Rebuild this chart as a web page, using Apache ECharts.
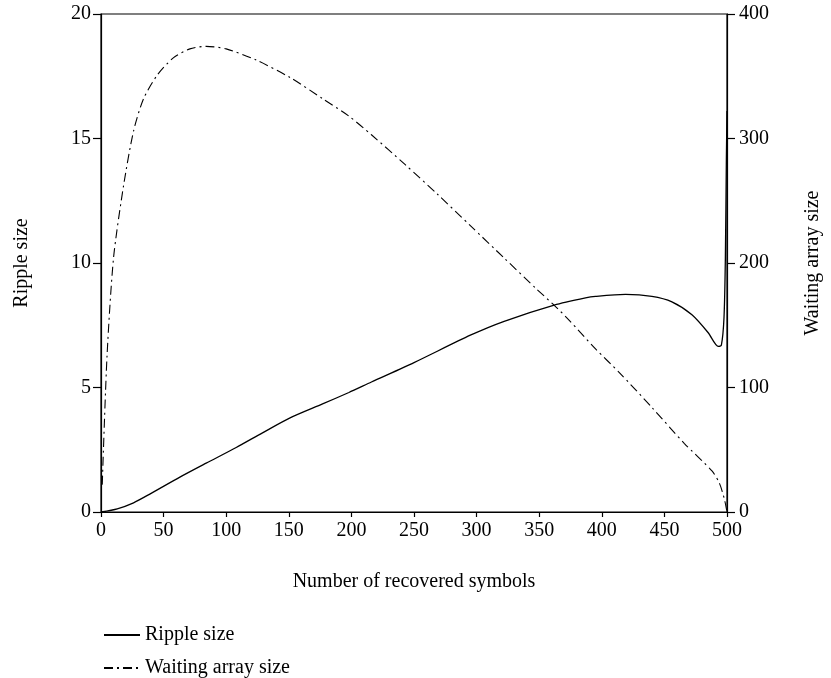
<!DOCTYPE html>
<html>
<head>
<meta charset="utf-8">
<script src="https://cdn.jsdelivr.net/npm/echarts@6/dist/echarts.min.js"></script>
<style>
  html, body { margin: 0; padding: 0; background: #fff; }
  #chart { width: 831px; height: 678px; }
</style>
</head>
<body>
<div id="chart"></div>
<script>
// Ripple size (left axis)
const rippleX = [0, 13, 26, 39, 63, 84, 108, 129, 151, 177, 198, 216, 250, 295, 322, 362, 387, 395, 419, 440, 456, 472, 485, 493, 495.5, 497.6, 498.7, 499.5, 500];
const rippleY = [0, 0.13, 0.37, 0.72, 1.4, 1.96, 2.59, 3.18, 3.78, 4.34, 4.8, 5.22, 6.0, 7.1, 7.66, 8.31, 8.6, 8.66, 8.74, 8.66, 8.44, 7.92, 7.2, 6.65, 6.7, 7.8, 10.2, 14.2, 16.1];

// Waiting array size (right axis)
const waitX = [1, 4.8, 10, 18, 26, 34, 45, 58, 71, 84, 100, 124, 151, 177, 198, 216, 243, 269, 295, 322, 348, 362, 374, 395, 414, 440, 466, 488, 494, 498, 500];
const waitY = [22, 125, 204, 262, 306, 332, 351, 365, 372, 374, 372, 363, 349, 332, 318, 303, 279, 255, 230, 204, 179, 166, 154, 131, 112, 84, 55, 33, 23, 10, 0];

const xTicks = [0, 50, 100, 150, 200, 250, 300, 350, 400, 450, 500];

const font = '"Liberation Serif", "DejaVu Serif", serif';
const dashDot = [9, 4, 2, 4];

const chart = echarts.init(document.getElementById('chart'));

const axisCommon = {
  axisLine: { show: true, lineStyle: { color: '#000', width: 1.2 } },
  axisLabel: { color: '#000', fontFamily: font, fontSize: 20 },
  splitLine: { show: false },
  nameTextStyle: { color: '#000', fontFamily: font, fontSize: 20 }
};

const legendCommon = {
  orient: 'horizontal',
  left: 98,
  itemWidth: 36,
  itemHeight: 14,
  itemStyle: { opacity: 0 },
  textStyle: { color: '#000', fontFamily: font, fontSize: 20 }
};

chart.setOption({
  animation: false,
  backgroundColor: '#fff',
  grid: {
    left: 101, right: 99, top: 14, bottom: 166,
    show: true, borderColor: '#000', borderWidth: 1.2, backgroundColor: 'transparent'
  },
  legend: [
    Object.assign({}, legendCommon, { top: 620, data: ['Ripple size'] }),
    Object.assign({}, legendCommon, { top: 653, data: ['Waiting array size'] })
  ],
  xAxis: Object.assign({}, axisCommon, {
    type: 'value',
    min: 0, max: 500, interval: 50,
    name: 'Number of recovered symbols',
    nameLocation: 'middle',
    nameGap: 60,
    axisTick: { show: true, length: 5, lineStyle: { color: '#000', width: 1.2 } },
    axisLabel: Object.assign({}, axisCommon.axisLabel, { margin: 9, formatter: v => xTicks.includes(v) ? String(v) : '' })
  }),
  yAxis: [
    Object.assign({}, axisCommon, {
      type: 'value',
      min: 0, max: 20, interval: 5,
      name: 'Ripple size',
      nameLocation: 'middle',
      nameGap: 69,
      nameRotate: 90,
      axisTick: { show: true, length: 8, lineStyle: { color: '#000', width: 1.2 } },
      axisLabel: Object.assign({}, axisCommon.axisLabel, { margin: 10 })
    }),
    Object.assign({}, axisCommon, {
      type: 'value',
      position: 'right',
      min: 0, max: 400, interval: 100,
      name: 'Waiting array size',
      nameLocation: 'middle',
      nameGap: 76,
      nameRotate: 90,
      axisTick: { show: true, length: 8, lineStyle: { color: '#000', width: 1.2 } },
      axisLabel: Object.assign({}, axisCommon.axisLabel, { margin: 12 })
    })
  ],
  series: [
    {
      name: 'Ripple size',
      type: 'line',
      yAxisIndex: 0,
      data: rippleX.map((x, i) => [x, rippleY[i]]),
      showSymbol: false,
      symbol: 'none',
      smooth: 0.25,
      lineStyle: { color: '#000', width: 1.3 },
      itemStyle: { color: '#000' }
    },
    {
      name: 'Waiting array size',
      type: 'line',
      yAxisIndex: 1,
      data: waitX.map((x, i) => [x, waitY[i]]),
      showSymbol: false,
      symbol: 'none',
      smooth: 0.25,
      lineStyle: { color: '#000', width: 1.1, type: dashDot },
      itemStyle: { color: '#000' }
    }
  ]
});
</script>
</body>
</html>
